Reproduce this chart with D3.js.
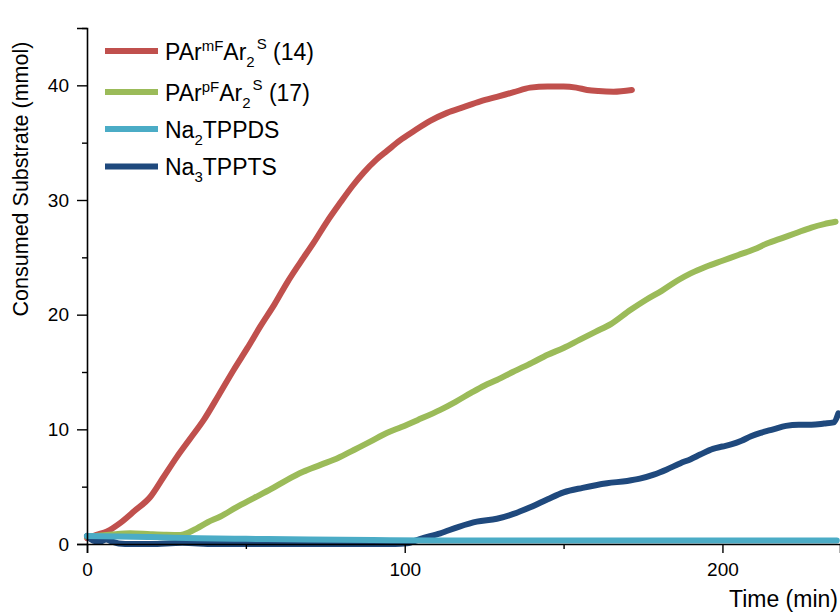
<!DOCTYPE html>
<html>
<head>
<meta charset="utf-8">
<script src="https://cdn.jsdelivr.net/npm/d3@7"></script>
<style>
  html, body { margin: 0; padding: 0; background: #fff; }
  svg { display: block; font-family: "Liberation Sans", Arial, sans-serif; }
</style>
</head>
<body>
<svg id="chart" width="840" height="614"></svg>
<script>
// Consumed substrate over time for four sulfonated phosphine ligands
const redTime   = [0, 3, 6.3, 10.5, 15, 19.9, 24, 28.3, 32.5, 36.7, 41.5, 46.2, 50.5, 54.6, 59, 63, 67, 71.4, 75.5, 79.8, 83.5, 87.1, 91, 94.5, 98.5, 102.8, 108, 113.3, 118.5, 123.8, 129, 134.3, 139.5, 145, 150, 154, 157.4, 161, 165.7, 171.5];
const redValues = [0.5, 0.8, 1.1, 1.85, 2.9, 4.1, 5.8, 7.6, 9.2, 10.8, 13.0, 15.2, 17.1, 19.0, 20.9, 22.8, 24.5, 26.3, 28.1, 29.8, 31.2, 32.4, 33.5, 34.3, 35.2, 36.0, 36.9, 37.6, 38.1, 38.6, 39.0, 39.4, 39.8, 39.9, 39.9, 39.8, 39.6, 39.5, 39.45, 39.6];

const greenTime   = [0, 7, 13.6, 20, 25, 29.4, 32, 34.6, 38, 42, 47, 52.5, 58, 63, 68, 73.5, 79, 84, 89, 94.5, 99, 104, 111.2, 116, 121, 125, 129, 134, 140, 145, 150, 155, 160, 165, 171, 176, 181, 186, 190, 195, 200, 205, 210, 214, 219, 223, 228, 232, 235.6];
const greenValues = [0.64, 0.8, 0.93, 0.85, 0.8, 0.78, 1.0, 1.37, 1.9, 2.4, 3.2, 4.0, 4.8, 5.6, 6.3, 6.9, 7.5, 8.2, 8.9, 9.7, 10.2, 10.8, 11.7, 12.4, 13.2, 13.8, 14.3, 15.0, 15.8, 16.5, 17.1, 17.8, 18.5, 19.2, 20.4, 21.3, 22.1, 23.0, 23.6, 24.2, 24.7, 25.2, 25.7, 26.2, 26.7, 27.1, 27.6, 27.9, 28.1];

const ltBlueTime   = [0, 10, 20, 35, 50, 70, 90, 110, 130, 150, 170, 190, 210, 225, 236];
const ltBlueValues = [0.7, 0.65, 0.6, 0.5, 0.45, 0.4, 0.35, 0.3, 0.3, 0.3, 0.3, 0.3, 0.3, 0.3, 0.3];

const navyTime   = [0, 2, 4, 6, 8, 10, 14, 20, 30, 40, 50, 60, 70, 80, 90, 97, 100.7, 105, 111.2, 117, 122.7, 129, 134, 139.5, 145, 150, 156, 163.7, 170, 174, 178.4, 182.5, 186.8, 190, 193, 197, 200, 203, 206, 209, 212, 216, 220, 224, 228, 232, 235, 236.5];
const navyValues = [0.7, 0.3, 0.2, 0.4, 0.2, 0.05, 0.0, 0.0, 0.1, 0.0, 0.0, 0.0, 0.0, 0.0, 0.0, 0.0, 0.06, 0.45, 0.93, 1.5, 1.95, 2.2, 2.6, 3.2, 3.9, 4.5, 4.9, 5.3, 5.5, 5.7, 6.05, 6.5, 7.05, 7.4, 7.8, 8.3, 8.5, 8.7, 9.0, 9.4, 9.7, 10.0, 10.3, 10.4, 10.4, 10.5, 10.6, 11.4];

const seriesColors = ["#c0504d", "#9bbb59", "#4bacc6", "#1f497d"];

const xMajorTicks = [0, 100, 200];
const xMinorTicks = [50, 150];
const yMajorTicks = [0, 10, 20, 30, 40];
const yMinorTicks = [5, 15, 25, 35, 45];

const svg = d3.select("#chart");

const x = d3.scaleLinear().domain([0, 237]).range([87, 840]);
const y = d3.scaleLinear().domain([0, 45]).range([544, 28]);

const line = d3.line()
  .x(d => x(d[0]))
  .y(d => y(d[1]))
  .curve(d3.curveMonotoneX);

const series = [
  { t: redTime, v: redValues, c: seriesColors[0] },
  { t: greenTime, v: greenValues, c: seriesColors[1] },
  { t: navyTime, v: navyValues, c: seriesColors[3] },
  { t: ltBlueTime, v: ltBlueValues, c: seriesColors[2] }
];

const plot = svg.append("g");
series.forEach(s => {
  plot.append("path")
    .datum(d3.zip(s.t, s.v))
    .attr("d", line)
    .attr("fill", "none")
    .attr("stroke", s.c)
    .attr("stroke-width", 6)
    .attr("stroke-linecap", "round")
    .attr("stroke-linejoin", "round");
});

// Axes
svg.append("g")
  .attr("transform", `translate(0,${y(0)})`)
  .call(d3.axisBottom(x).tickValues(xMajorTicks).tickSize(9).tickPadding(10).tickFormat(d3.format("d")));
svg.append("g")
  .attr("transform", `translate(0,${y(0)})`)
  .call(d3.axisBottom(x).tickValues(xMinorTicks).tickSize(5).tickFormat(""))
  .select(".domain").remove();

svg.append("g")
  .attr("transform", `translate(${x(0)},0)`)
  .call(d3.axisLeft(y).tickValues(yMajorTicks).tickSize(10).tickPadding(8).tickFormat(d3.format("d")));
svg.append("g")
  .attr("transform", `translate(${x(0)},0)`)
  .call(d3.axisLeft(y).tickValues(yMinorTicks).tickSize(5).tickFormat(""))
  .select(".domain").remove();

svg.selectAll(".domain").attr("stroke", "#000").attr("stroke-width", 1.6);
svg.selectAll(".tick line").attr("stroke", "#000").attr("stroke-width", 1.4);
svg.selectAll(".tick text")
  .attr("font-size", "19px")
  .attr("font-family", "Liberation Sans, Arial, sans-serif")
  .attr("fill", "#000");

// Axis titles
svg.append("text")
  .attr("x", 838)
  .attr("y", 607)
  .attr("text-anchor", "end")
  .attr("font-size", "23px")
  .attr("fill", "#000")
  .text("Time (min)");

svg.append("text")
  .attr("transform", "translate(28,179) rotate(-90)")
  .attr("text-anchor", "middle")
  .attr("font-size", "21.5px")
  .attr("fill", "#000")
  .text("Consumed Substrate (mmol)");

// Legend
const legendRows = [51, 92, 129, 166.5];
const legend = svg.append("g");
const fs = 23, small = 15;

function addLabel(g, yBase, parts) {
  const t = g.append("text")
    .attr("x", 165)
    .attr("y", yBase)
    .attr("font-size", fs + "px")
    .attr("fill", "#000");
  parts.forEach(p => {
    const ts = t.append("tspan").text(p.s);
    if (p.size) ts.attr("font-size", p.size + "px");
    if (p.dy) ts.attr("dy", p.dy);
    if (p.dx) ts.attr("dx", p.dx);
  });
}

legendRows.forEach((ly, i) => {
  legend.append("line")
    .attr("x1", 105).attr("x2", 158)
    .attr("y1", ly).attr("y2", ly)
    .attr("stroke", seriesColors[i])
    .attr("stroke-width", 6);
});

addLabel(legend, legendRows[0] + 9, [
  { s: "PAr" },
  { s: "mF", size: small, dy: -9 },
  { s: "Ar", dy: 9 },
  { s: "2", size: small, dy: 7 },
  { s: "S", size: small, dy: -18, dx: 2 },
  { s: " (14)", dy: 11 }
]);
addLabel(legend, legendRows[1] + 9, [
  { s: "PAr" },
  { s: "pF", size: small, dy: -9 },
  { s: "Ar", dy: 9 },
  { s: "2", size: small, dy: 7 },
  { s: "S", size: small, dy: -18, dx: 2 },
  { s: " (17)", dy: 11 }
]);
addLabel(legend, legendRows[2] + 8.5, [
  { s: "Na" },
  { s: "2", size: small, dy: 7 },
  { s: "TPPDS", dy: -7 }
]);
addLabel(legend, legendRows[3] + 8.5, [
  { s: "Na" },
  { s: "3", size: small, dy: 7 },
  { s: "TPPTS", dy: -7 }
]);
</script>
</body>
</html>
